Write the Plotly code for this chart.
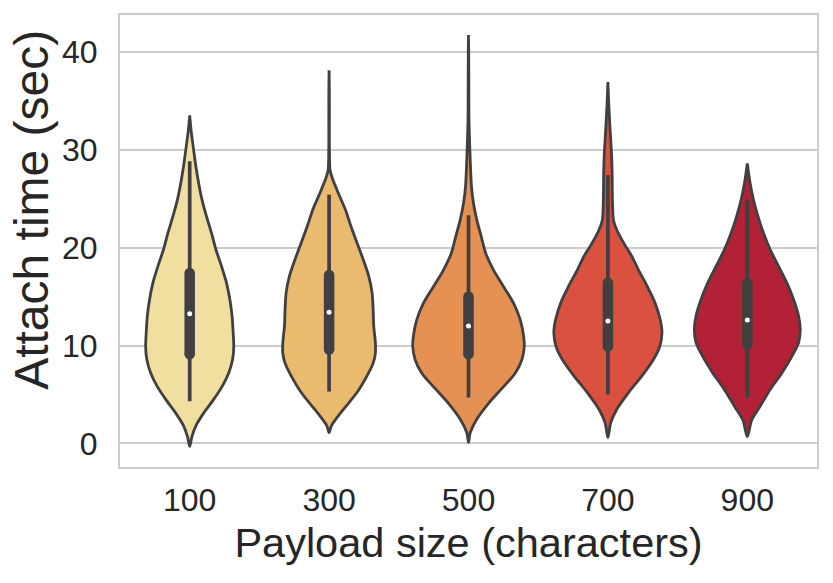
import plotly.graph_objects as go

categories = ["100", "300", "500", "700", "900"]

# Density outlines: attach time (sec) and relative density (1 = widest violin)
v100_y = [-0.3, 0.7, 1.8, 3.1, 4.5, 5.8, 7.2, 8.6, 9.9, 11.3, 13.0, 14.7, 16.4, 18.1, 19.8, 21.5, 23.2, 24.9, 26.6, 28.3, 30.0, 31.7, 33.5]
v100_d = [0.0, 0.04, 0.11, 0.25, 0.43, 0.58, 0.70, 0.77, 0.79, 0.78, 0.76, 0.72, 0.66, 0.57, 0.47, 0.39, 0.30, 0.22, 0.16, 0.11, 0.07, 0.03, 0.0]

v300_y = [1.1, 1.8, 2.4, 3.5, 5.2, 6.9, 8.2, 9.2, 10.3, 12.0, 13.7, 15.4, 17.1, 18.8, 20.5, 22.2, 23.9, 25.5, 26.9, 27.9, 30.0, 32.3, 35.7, 38.1]
v300_d = [0.0, 0.04, 0.11, 0.26, 0.50, 0.68, 0.79, 0.83, 0.83, 0.80, 0.79, 0.77, 0.71, 0.61, 0.50, 0.39, 0.29, 0.17, 0.07, 0.018, 0.006, 0.005, 0.005, 0.0]

v500_y = [0.1, 1.1, 2.4, 4.1, 5.8, 7.2, 8.6, 9.9, 10.9, 12.6, 14.3, 16.0, 17.7, 19.4, 21.1, 22.8, 24.5, 26.2, 29.6, 33.0, 36.4, 39.8, 41.7]
v500_d = [0.0, 0.03, 0.14, 0.36, 0.63, 0.84, 0.96, 1.0, 0.99, 0.93, 0.81, 0.63, 0.45, 0.31, 0.23, 0.15, 0.09, 0.054, 0.027, 0.009, 0.006, 0.004, 0.0]

v700_y = [0.6, 2.1, 3.5, 5.2, 6.9, 8.6, 9.9, 11.3, 12.6, 14.3, 16.0, 17.7, 19.1, 20.5, 21.8, 22.8, 27.9, 29.6, 32.0, 34.7, 36.9]
v700_d = [0.0, 0.05, 0.16, 0.37, 0.61, 0.82, 0.93, 0.97, 0.94, 0.85, 0.71, 0.55, 0.43, 0.28, 0.16, 0.10, 0.075, 0.065, 0.04, 0.015, 0.0]

v900_y = [0.7, 2.4, 3.8, 5.5, 7.2, 8.9, 10.3, 11.6, 13.0, 14.7, 16.4, 18.1, 19.8, 21.5, 23.2, 24.9, 26.6, 28.6]
v900_d = [0.0, 0.08, 0.23, 0.41, 0.62, 0.80, 0.92, 0.95, 0.92, 0.83, 0.71, 0.56, 0.41, 0.29, 0.19, 0.11, 0.05, 0.0]

profiles_y = [v100_y, v300_y, v500_y, v700_y, v900_y]
profiles_d = [v100_d, v300_d, v500_d, v700_d, v900_d]

# Inner box statistics (sec)
whisker_low = [4.3, 5.3, 4.7, 5.0, 4.7]
q1 = [8.6, 9.1, 8.6, 9.4, 9.6]
median = [13.25, 13.4, 12.0, 12.5, 12.6]
q3 = [17.9, 17.7, 15.5, 16.9, 16.9]
whisker_high = [28.8, 25.4, 23.3, 27.4, 24.9]

x_title = "Payload size (characters)"
y_title = "Attach time (sec)"

colors = ["#F1DFA0", "#EABA6F", "#E59154", "#DA513F", "#B22135"]
edge = "#404040"
half_width = 0.4

fig = go.Figure()

for i, (ys, ds) in enumerate(zip(profiles_y, profiles_d)):
    xr = [i + d * half_width for d in ds]
    xl = [i - d * half_width for d in ds]
    fig.add_trace(go.Scatter(
        x=xr + xl[::-1], y=ys + ys[::-1],
        mode="lines", fill="toself", fillcolor=colors[i],
        line=dict(color=edge, width=2.8, shape="spline", smoothing=0.8),
        hoverinfo="skip", showlegend=False,
    ))
    # whisker
    fig.add_trace(go.Scatter(
        x=[i, i], y=[whisker_low[i], whisker_high[i]], mode="lines",
        line=dict(color=edge, width=3.7), hoverinfo="skip", showlegend=False,
    ))
    # box (rounded ends)
    pad = 0.5
    fig.add_trace(go.Scatter(
        x=[i, i], y=[q1[i] + pad, q3[i] - pad], mode="lines+markers",
        line=dict(color=edge, width=10.5),
        marker=dict(color=edge, size=10.5, line=dict(width=0)),
        hoverinfo="skip", showlegend=False,
    ))
    # median
    fig.add_trace(go.Scatter(
        x=[i], y=[median[i]], mode="markers",
        marker=dict(color="white", size=5, line=dict(width=0)),
        hoverinfo="skip", showlegend=False,
    ))

font_family = "Liberation Sans, Arial, Helvetica, sans-serif"
fig.update_layout(
    width=833, height=583,
    margin=dict(l=120, r=15.5, t=15, b=115.5),
    plot_bgcolor="white", paper_bgcolor="white",
    font=dict(family=font_family, color="#262626"),
    showlegend=False,
)
fig.update_xaxes(
    range=[-0.5, 4.5], tickvals=list(range(len(categories))), ticktext=categories,
    showgrid=False, zeroline=False,
    showline=True, linecolor="#CCCCCC", linewidth=2, mirror=True,
    ticks="", ticklabelstandoff=4,
    tickfont=dict(size=32, color="#262626"),
    title=dict(text=x_title, font=dict(size=41.5, color="#262626"), standoff=11),
)
fig.update_yaxes(
    range=[-2.4, 43.74], tickvals=[0, 10, 20, 30, 40],
    showgrid=True, gridcolor="#CCCCCC", gridwidth=1.8, zeroline=False,
    showline=True, linecolor="#CCCCCC", linewidth=2, mirror=True,
    ticks="", ticklabelstandoff=14,
    tickfont=dict(size=32, color="#262626"),
)
fig.add_annotation(
    text=y_title, textangle=-90, showarrow=False,
    xref="paper", yref="paper", x=-0.1262, y=0.569,
    xanchor="center", yanchor="middle",
    font=dict(size=48, color="#262626"),
)

fig.write_html("out.html")
